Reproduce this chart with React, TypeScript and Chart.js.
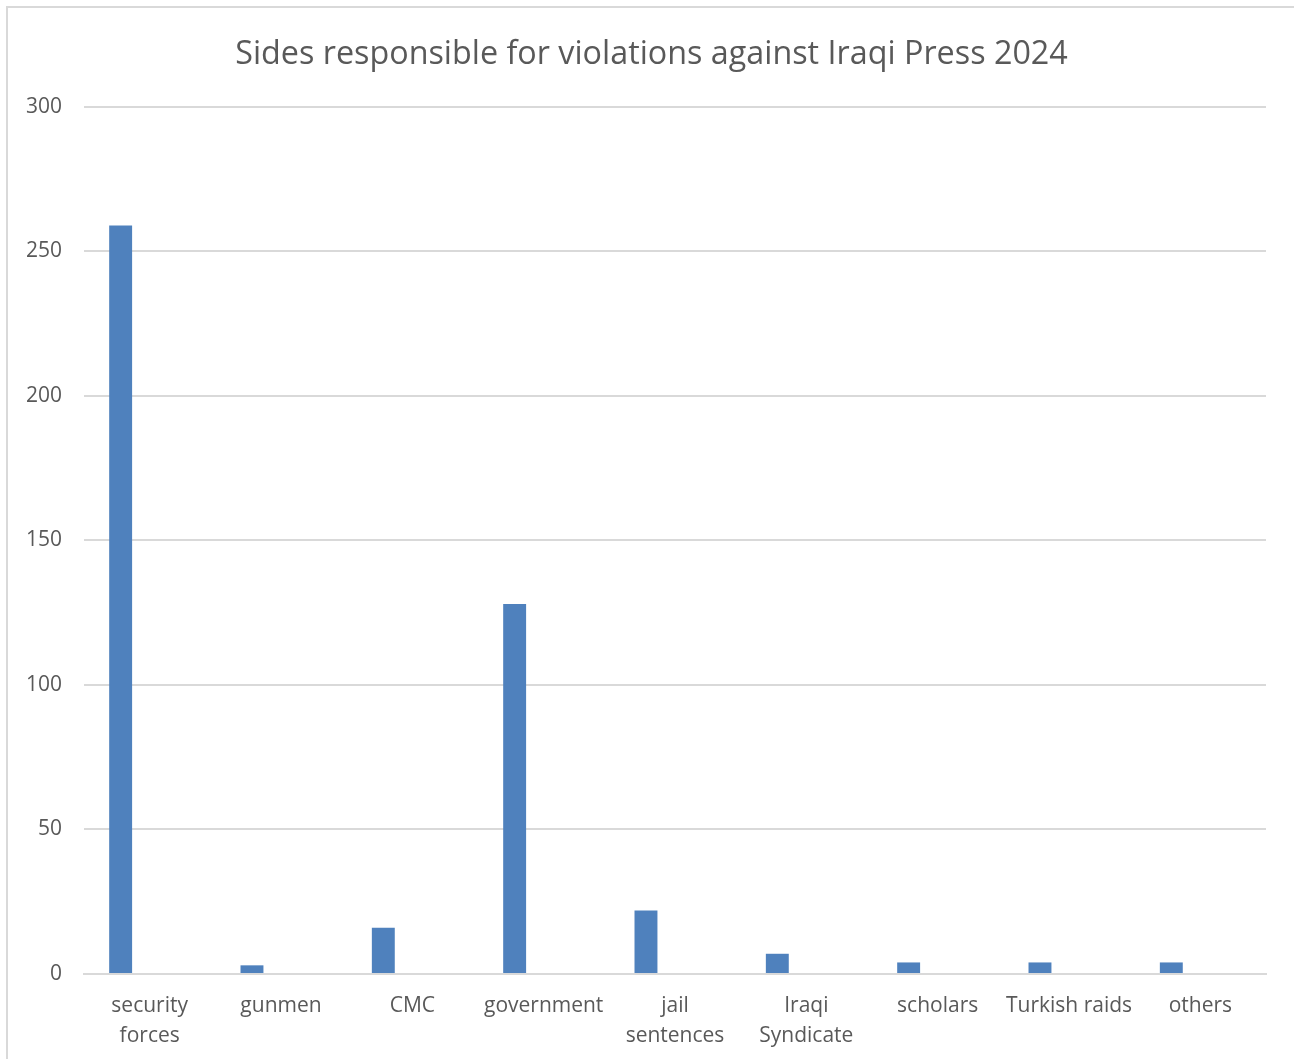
import React, { useEffect, useRef } from "react";
import { Chart, registerables } from "chart.js";

Chart.register(...registerables);

const chartTitle = "Sides responsible for violations against Iraqi Press 2024";
const categories: (string | string[])[] = [
  ["security", "forces"],
  "gunmen",
  "CMC",
  "government",
  ["jail", "sentences"],
  ["Iraqi", "Syndicate"],
  "scholars",
  "Turkish raids",
  "others",
];
const violations = [259, 3, 16, 128, 22, 7, 4, 4, 4];
const emptySeriesA: (number | null)[] = [];
const emptySeriesB: (number | null)[] = [];
const yMin = 0;
const yMax = 300;
const yStep = 50;

const FONT = "'Open Sans', sans-serif";
const TEXT = "#595959";
const GRID = "#d9d9d9";
const BAR = "#4f81bd";

export default function App() {
  const ref = useRef<HTMLCanvasElement | null>(null);

  useEffect(() => {
    document.body.style.overflow = "hidden";
    if (!ref.current) return;
    const barOpts = { barPercentage: 0.79, categoryPercentage: 0.663 };
    const chart = new Chart(ref.current, {
      type: "bar",
      data: {
        labels: categories,
        datasets: [
          { label: "violations", data: violations, backgroundColor: BAR, ...barOpts },
          { label: "s2", data: emptySeriesA, backgroundColor: BAR, ...barOpts },
          { label: "s3", data: emptySeriesB, backgroundColor: BAR, ...barOpts },
        ],
      },
      options: {
        animation: false,
        responsive: false,
        maintainAspectRatio: false,
        layout: { padding: { left: 9, right: 0, top: 0, bottom: 0 } },
        plugins: {
          legend: { display: false },
          tooltip: { enabled: false },
          title: {
            display: true,
            text: chartTitle,
            color: TEXT,
            font: { family: FONT, size: 32.3, weight: "normal", lineHeight: 1.2 },
            padding: { top: 35.5, bottom: 32.7 },
          },
        },
        scales: {
          x: {
            grid: { display: false, drawTicks: false },
            border: { display: true, color: GRID, width: 2 },
            ticks: {
              color: TEXT,
              font: { family: FONT, size: 21, lineHeight: 1.43 },
              padding: 17,
              maxRotation: 0,
              autoSkip: false,
            },
            afterFit: (s: any) => {
              s.height = 85;
            },
          },
          y: {
            min: yMin,
            max: yMax,
            grid: { color: GRID, lineWidth: 2, drawTicks: false },
            border: { display: false },
            ticks: {
              stepSize: yStep,
              color: TEXT,
              font: { family: FONT, size: 21 },
              padding: 22,
            },
            afterFit: (s: any) => {
              s.width = 75;
            },
          },
          yRightSpace: {
            position: "right",
            min: yMin,
            max: yMax,
            grid: { display: false, drawTicks: false },
            border: { display: false },
            ticks: { display: false },
            afterFit: (s: any) => {
              s.width = 28;
            },
          },
        },
      },
    });
    return () => chart.destroy();
  }, []);

  return (
    <div style={{ position: "fixed", left: 0, top: 0, width: 1294, height: 1059, overflow: "hidden", background: "#fff" }}>
      <div
        style={{
          position: "absolute",
          left: 6,
          top: 6,
          width: 1400,
          height: 1200,
          borderLeft: "2px solid " + GRID,
          borderTop: "2px solid " + GRID,
        }}
      />
      <canvas ref={ref} width={1294} height={1059} style={{ position: "absolute", left: 0, top: 0 }} />
    </div>
  );
}
